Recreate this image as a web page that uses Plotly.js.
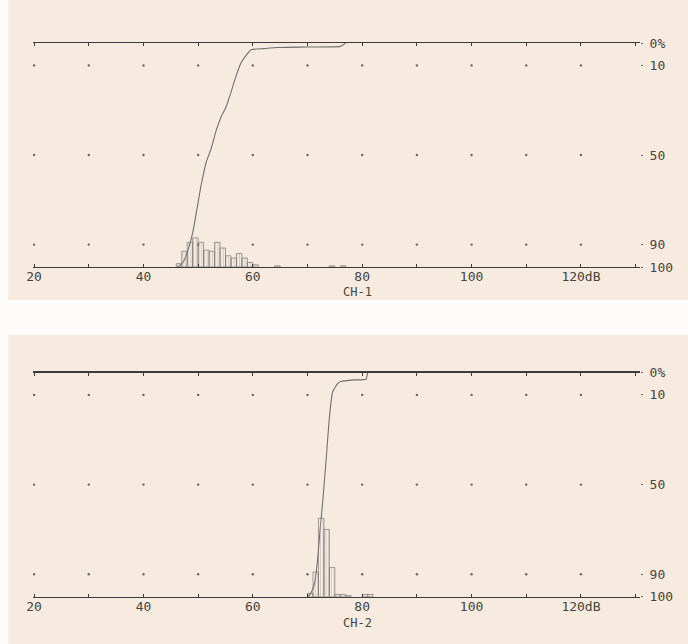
<!DOCTYPE html>
<html>
<head>
<meta charset="utf-8">
<script src="https://cdn.plot.ly/plotly-3.0.1.min.js"></script>
<style>
  html, body { margin: 0; padding: 0; background: #ffffff; }
  #chart { width: 688px; height: 644px; }
</style>
</head>
<body>
<div id="chart"></div>
<script>
// ---------- data ----------
// level axis (dB)
const xTickVals = [20, 30, 40, 50, 60, 70, 80, 90, 100, 110, 120, 130];
const xTickText = ['20', '', '40', '', '60', '', '80', '', '100', '', '120dB', ''];
// percent axis (right side)
const yTickVals = [0, 10, 50, 90, 100];
const yTickText = ['0%', '10', '50', '90', '100'];
// dotted grid
const gridX = [20, 30, 40, 50, 60, 70, 80, 90, 100, 110, 120];
const gridY = [10, 50, 90];

// CH-1 histogram (bin centre dB, percent)
const ch1Bins = [46.5, 47.5, 48.5, 49.5, 50.5, 51.5, 52.5, 53.5, 54.5, 55.5, 56.5, 57.5, 58.5, 59.5, 60.5, 64.5, 74.5, 76.5];
const ch1Pct  = [1.5, 7, 11, 13, 11, 7.5, 7, 11, 8.5, 5, 4, 6, 4, 2, 1, 0.5, 0.5, 0.5];
// CH-1 cumulative (level exceeded, percent)
const ch1CumX = [46.3, 47.2, 48.2, 49.1, 50.0, 50.5, 51.1, 51.5, 52.4, 53.3, 54.2, 55.1, 56.0, 56.9, 57.8, 58.8, 59.7, 62.0, 64.5, 70.0, 76.0, 77.0];
const ch1CumY = [100, 98, 92, 83.5, 71, 64, 57, 53, 47, 39, 33, 28.6, 22, 15, 9, 5.4, 3, 2.5, 2, 1.8, 1.5, 0];

// CH-2 histogram
const ch2Bins = [70.5, 71.5, 72.5, 73.5, 74.5, 75.5, 76.5, 77.5, 80.5, 81.5];
const ch2Pct  = [1.5, 11, 35, 30, 13, 1, 1, 0.5, 1, 1];
// CH-2 cumulative
const ch2CumX = [70.0, 70.6, 71.3, 71.9, 72.3, 72.8, 73.4, 74.0, 74.6, 75.5, 76.1, 78.5, 80.7, 81.0];
const ch2CumY = [100, 98.5, 94, 82, 70, 57, 39, 20, 8.6, 5, 4, 3.3, 3, 0];

// ---------- styling ----------
const INK = '#3c3c3c';
const CURVE = '#707070';
const PEACH = '#f7ebdf';
const FONT = {family: 'DejaVu Sans Mono, Liberation Mono, monospace', size: 13, color: '#444'};
const FONT_CH = {family: 'DejaVu Sans Mono, Liberation Mono, monospace', size: 12, color: '#444'};

function gridTrace(xa, ya) {
  const xs = [], ys = [];
  gridY.forEach(function (gy) { gridX.forEach(function (gx) { xs.push(gx); ys.push(gy); }); });
  return {x: xs, y: ys, xaxis: xa, yaxis: ya, type: 'scatter', mode: 'markers',
          marker: {size: 2.4, color: '#666'}, hoverinfo: 'skip', showlegend: false};
}
function histTrace(bins, pct, xa, ya) {
  return {x: bins, y: pct, xaxis: xa, yaxis: ya, type: 'bar', width: 1,
          marker: {color: 'rgba(0,0,0,0)', line: {color: '#777', width: 0.7},
                   pattern: {shape: '|', fgcolor: '#a5a5a5', size: 2.7, solidity: 0.15}},
          showlegend: false, hoverinfo: 'skip'};
}
function cumTrace(cx, cy, xa, ya) {
  return {x: cx, y: cy, xaxis: xa, yaxis: ya, type: 'scatter', mode: 'lines',
          line: {color: CURVE, width: 1.1, shape: 'spline', smoothing: 0.4},
          showlegend: false, hoverinfo: 'skip'};
}

const traces = [
  gridTrace('x', 'y'),
  histTrace(ch1Bins, ch1Pct, 'x', 'y3'),
  cumTrace(ch1CumX, ch1CumY, 'x', 'y'),
  gridTrace('x2', 'y2'),
  histTrace(ch2Bins, ch2Pct, 'x2', 'y4'),
  cumTrace(ch2CumX, ch2CumY, 'x2', 'y2')
];

const W = 688, H = 644;
const xDom = [33 / W, 640 / W];
const topDom = [(H - 267) / H, (H - 43) / H];
const botDom = [(H - 596.7) / H, (H - 372.5) / H];
const xRange = [19.8, 130.8];

function xAxis(anchor) {
  return {domain: xDom, range: xRange, anchor: anchor, showgrid: false, zeroline: false,
          showline: true, linecolor: INK, linewidth: 1.3, mirror: 'ticks',
          ticks: 'inside', ticklen: 3, tickcolor: INK, tickwidth: 1,
          tickmode: 'array', tickvals: xTickVals, ticktext: xTickText,
          tickfont: FONT, ticklabelstandoff: -3, fixedrange: true};
}
function yAxis(anchor, dom) {
  return {domain: dom, range: [100, 0], anchor: anchor, side: 'right',
          showgrid: false, zeroline: false, showline: false,
          ticks: 'outside', ticklen: 2, tickcolor: '#666', tickwidth: 1,
          tickmode: 'array', tickvals: yTickVals, ticktext: yTickText,
          tickfont: FONT, ticklabelstandoff: 4, fixedrange: true};
}
function yOver(over) {
  return {overlaying: over, range: [0, 100], visible: false, showgrid: false,
          zeroline: false, fixedrange: true};
}

const layout = {
  width: W, height: H,
  margin: {l: 0, r: 0, t: 0, b: 0},
  paper_bgcolor: '#fdfcfa',
  plot_bgcolor: 'rgba(0,0,0,0)',
  showlegend: false,
  bargap: 0,
  font: FONT,
  xaxis: xAxis('y'),
  yaxis: yAxis('x', topDom),
  xaxis2: xAxis('y2'),
  yaxis2: yAxis('x2', botDom),
  yaxis3: yOver('y'),
  yaxis4: yOver('y2'),
  shapes: [
    {type: 'rect', xref: 'paper', yref: 'paper', x0: 0.012, x1: 1, y0: (H - 300) / H, y1: 1,
     fillcolor: PEACH, line: {width: 0}, layer: 'below'},
    {type: 'rect', xref: 'paper', yref: 'paper', x0: 0.012, x1: 1, y0: 0, y1: (H - 335) / H,
     fillcolor: PEACH, line: {width: 0}, layer: 'below'}
  ],
  annotations: [
    {text: 'CH-1', xref: 'paper', yref: 'paper', x: 357 / W, y: (H - 292) / H,
     showarrow: false, font: FONT_CH, xanchor: 'center', yanchor: 'middle', borderpad: 0},
    {text: 'CH-2', xref: 'paper', yref: 'paper', x: 357 / W, y: (H - 623) / H,
     showarrow: false, font: FONT_CH, xanchor: 'center', yanchor: 'middle', borderpad: 0}
  ]
};

Plotly.newPlot('chart', traces, layout, {displayModeBar: false, staticPlot: true});
</script>
</body>
</html>
